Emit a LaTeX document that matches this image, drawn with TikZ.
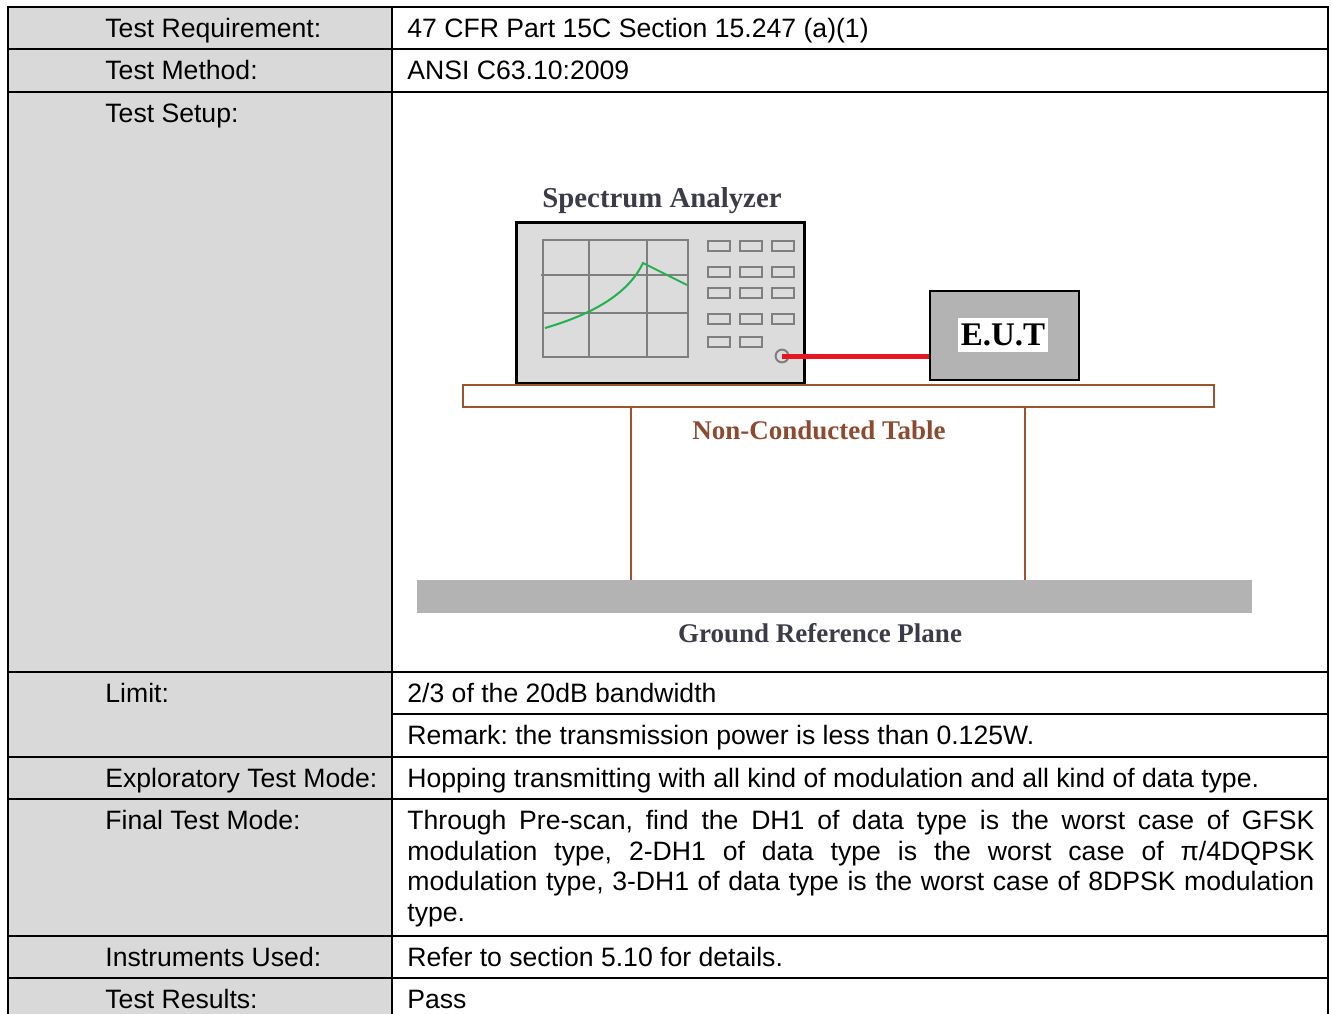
\documentclass[tikz,border=0pt]{standalone}
\usepackage{fontspec}
\setmainfont{Liberation Sans}
\newfontfamily\diagfont{Liberation Serif}
\definecolor{cellgray}{HTML}{D9D9D9}
\definecolor{panelgray}{HTML}{DCDCDC}
\definecolor{plategray}{HTML}{B3B3B3}
\definecolor{gridgray}{HTML}{7F7F7F}
\definecolor{tablebrown}{HTML}{A0522D}
\definecolor{textbrown}{HTML}{8E4A30}
\definecolor{tracegreen}{HTML}{22B14C}
\definecolor{cablered}{HTML}{E8161E}
\definecolor{labelgray}{HTML}{3C3C48}
\tikzset{
	cell/.style={anchor=base west, inner sep=0pt, font=\fontsize{13.3}{15.25}\selectfont\frenchspacing},
	tag/.style={anchor=base, inner sep=0pt, font=\diagfont\bfseries\fontsize{13.5}{16}\selectfont},
	rule/.style={line width=1pt},
	button/.style={gridgray, line width=1pt, fill=panelgray},
}
\begin{document}
\begin{tikzpicture}[x=0.5pt, y=-0.5pt]
		\useasboundingbox (0,0) rectangle (1332,1013);
		\clip (0,0) rectangle (1332,1013);
		% Table frame
		\fill[cellgray] (8,7) rectangle (392,1030);
		\draw[rule] (8,7) rectangle (1328,1030);
		\draw[rule] (392,7) -- (392,1030);
		\foreach \y in {49,92,672,757,799,936,978} \draw[rule] (8,\y) -- (1328,\y);
		\draw[line width=0.7pt] (392,714) -- (1328,714);
		% Table texts
		\node[cell] (reqkey) at (105,37.5) {Test Requirement:};
		\node[cell] (reqval) at (407,37.5) {47 CFR Part 15C Section 15.247 (a)(1)};
		\node[cell] (methkey) at (105,79.5) {Test Method:};
		\node[cell] (methval) at (407,79.5) {ANSI C63.10:2009};
		\node[cell] (setupkey) at (105,122.5) {Test Setup:};
		\node[cell] (limkey) at (105,702.5) {Limit:};
		\node[cell] (limval) at (407,702.5) {2/3 of the 20dB bandwidth};
		\node[cell] (remval) at (407,744.5) {Remark: the transmission power is less than 0.125W.};
		\node[cell] (explkey) at (105,787.5) {Exploratory Test Mode:};
		\node[cell] (explval) at (407,787.5) {Hopping transmitting with all kind of modulation and all kind of data type.};
		\node[cell] (finkey) at (105,829.5) {Final Test Mode:};
		\node[cell, text width=453.5pt, align=justify] (finval) at (407,829.5) {Through Pre-scan, find the DH1 of data type is the worst case of GFSK\linebreak modulation type, 2-DH1 of data type is the worst case of π/4DQPSK\linebreak modulation type, 3-DH1 of data type is the worst case of 8DPSK modulation\linebreak type.};
		\node[cell] (instkey) at (105,966.5) {Instruments Used:};
		\node[cell] (instval) at (407,966.5) {Refer to section 5.10 for details.};
		\node[cell] (reskey) at (105,1008.5) {Test Results:};
		\node[cell] (resval) at (407,1008.5) {Pass};
		% Spectrum analyzer
		\node[tag, font=\diagfont\bfseries\fontsize{14.4}{16}\selectfont, text=labelgray] (salabel) at (662,207) {Spectrum Analyzer};
		\draw[line width=1.5pt, fill=panelgray] (516,222) rectangle (804,383);
		\draw[gridgray, line width=1pt] (543,240) rectangle (688,357);
		\draw[gridgray, line width=1pt] (589,240) -- (589,357) (647,240) -- (647,357);
		\draw[gridgray, line width=1pt] (541,275) -- (688,275) (543,313) -- (688,313);
		\draw[tracegreen, line width=1pt] (545,328) .. controls (600,312) and (630,290) .. (643,263) -- (687,285);
		\foreach \bx in {708,740,772}
			\foreach \by in {241,267,288,314}
				\draw[button] (\bx,\by) rectangle ++(22,10);
		\foreach \bx in {708,740} \draw[button] (\bx,337) rectangle ++(22,10);
		\coordinate (port) at (782,356);
		\draw[gridgray, line width=1pt, fill=panelgray] (port) circle (3.2pt);
		% E.U.T and cable
		\node[draw, line width=1pt, fill=plategray, minimum width=74.5pt, minimum height=44.5pt, inner sep=0pt] (eut) at (1004.5,335.5) {};
		\draw[cablered, line width=2.5pt] (port) -- (eut.west |- port);
		\node[tag, font=\diagfont\bfseries\fontsize{16.5}{18}\selectfont, fill=white, inner xsep=1.5pt, inner ysep=0pt, text height=13.5pt, text depth=3.5pt] (eutlabel) at (1003,345) {E.U.T};
		% Table and ground plane
		\draw[tablebrown, line width=1pt, fill=white] (463,385) rectangle (1214,407);
		\draw[tablebrown, line width=1pt] (631,407) -- (631,580) (1025,407) -- (1025,580);
		\node[tag, text=textbrown] (tablelabel) at (819,439) {Non-Conducted Table};
		\fill[plategray] (417,580) rectangle (1252,613);
		\node[tag, text=labelgray] (gndlabel) at (820,642) {Ground Reference Plane};
	\end{tikzpicture}
\end{document}
